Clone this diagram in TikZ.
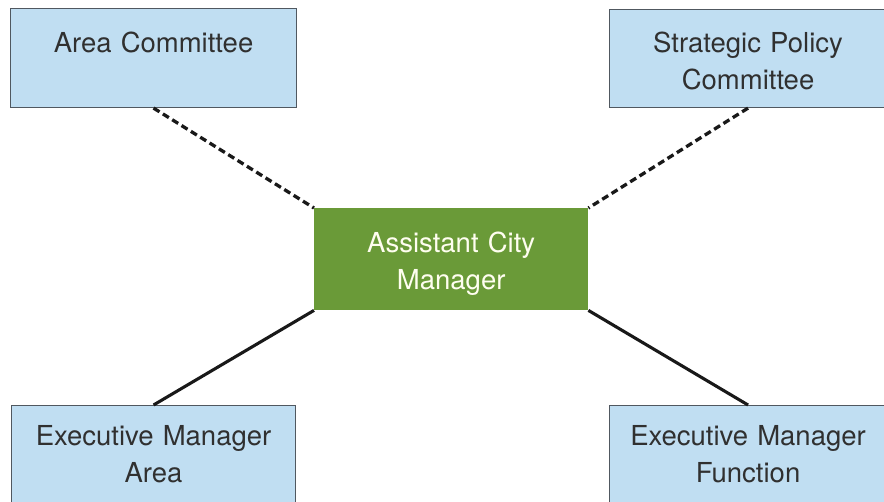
\documentclass[tikz,border=0pt]{standalone}
\usepackage{fontspec}
\setmainfont{TeX Gyre Heros}
\usepackage{xcolor}
\usepackage{tikz}
\usetikzlibrary{positioning,%
  calc
}

\definecolor{boxblue}{HTML}{C0DEF2}
\definecolor{boxline}{HTML}{505860}
\definecolor{mgrgreen}{HTML}{6A9A38}
\definecolor{txtgray}{HTML}{303030}

\begin{document}
\begin{tikzpicture}[x=1pt,y=-1pt,
    every node/.style={font=\fontsize{27.5}{37}\selectfont, align=center,
      inner xsep=0pt, inner ysep=0pt, anchor=north west},
    bluebox/.style={draw=boxline, line width=1.1pt, fill=boxblue, text=txtgray},
    greenbox/.style={fill=mgrgreen, text=white!94!yellow},
    dashlink/.style={line width=3.3pt, dash pattern=on 7pt off 4pt, black!90},
    solidlink/.style={line width=3.1pt, black!90}]
            \useasboundingbox (0,0) rectangle (884,502);
            \clip (0,0) rectangle (884,502);
            
            % top row
            \node [bluebox, text width=286pt, text height=44pt, text depth=55pt] (area) at (10,8) {Area Committee};
            \node [bluebox, text width=277pt, text height=43pt, text depth=55pt] (spc) at (609,9) {Strategic Policy\\Committee};
            
            % centre
            \node [greenbox, text width=274pt, text height=44pt, text depth=58pt] (acm) at (314,208) {Assistant City\\Manager};
            
            % bottom row
            \node [bluebox, text width=284pt, text height=40pt, text depth=110pt] (ema) at (11,405) {Executive Manager\\Area};
            \node [bluebox, text width=277pt, text height=40pt, text depth=110pt] (emf) at (609,405) {Executive Manager\\Function};
            
            \draw [dashlink] (area.south) -- (acm.north west);
            \draw [dashlink] (spc.south) -- (acm.north east);
            \draw [solidlink] (ema.north) -- (acm.south west);
            \draw [solidlink] (emf.north) -- (acm.south east);
        \end{tikzpicture}
\end{document}
